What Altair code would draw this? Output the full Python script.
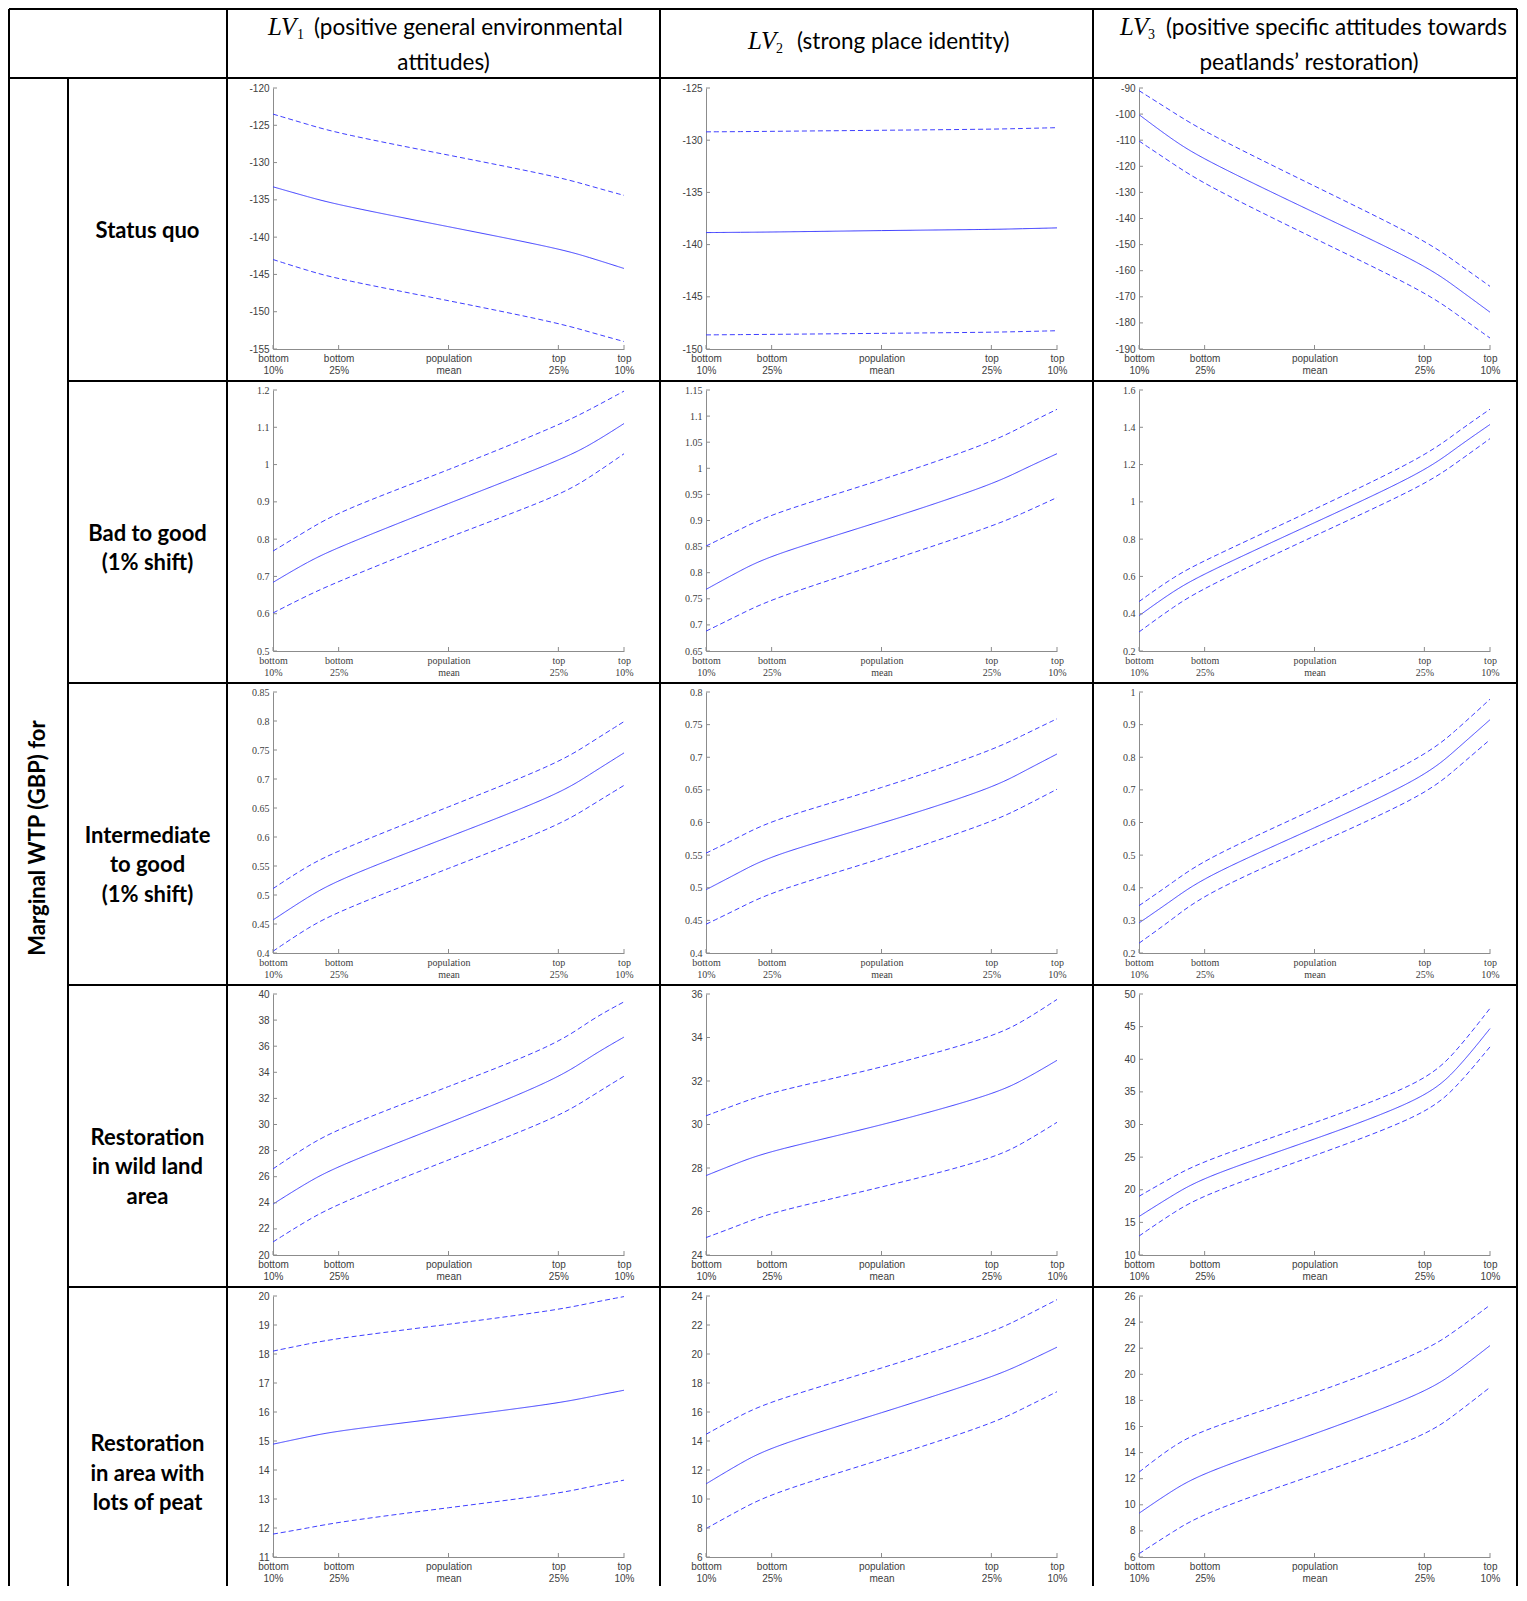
import altair as alt
import pandas as pd

# ---------------- data ----------------
X = [0.0, 0.1, 0.187, 0.5, 0.813, 0.9, 1.0]
X_TICKS = [0.0, 0.187, 0.5, 0.813, 1.0]
X_LABELS = [("bottom", "10%"), ("bottom", "25%"), ("population", "mean"), ("top", "25%"), ("top", "10%")]

COL_SUB = ["1", "2", "3"]
COL_LINE1 = ["(positive general environmental", "(strong place identity)", "(positive specific attitudes towards"]
COL_LINE2 = ["attitudes)", "", "peatlands\u2019 restoration)"]
ROW_LABELS = ["Status quo", "Bad to good\n(1% shift)", "Intermediate\nto good\n(1% shift)",
              "Restoration\nin wild land\narea", "Restoration\nin area with\nlots of peat"]
SIDE_LABEL = "Marginal WTP (GBP) for"

Y_TICKS = [
    [[-155, -150, -145, -140, -135, -130, -125, -120],
     [-150, -145, -140, -135, -130, -125],
     [-190, -180, -170, -160, -150, -140, -130, -120, -110, -100, -90]],
    [[0.5, 0.6, 0.7, 0.8, 0.9, 1, 1.1, 1.2],
     [0.65, 0.7, 0.75, 0.8, 0.85, 0.9, 0.95, 1, 1.05, 1.1, 1.15],
     [0.2, 0.4, 0.6, 0.8, 1, 1.2, 1.4, 1.6]],
    [[0.4, 0.45, 0.5, 0.55, 0.6, 0.65, 0.7, 0.75, 0.8, 0.85],
     [0.4, 0.45, 0.5, 0.55, 0.6, 0.65, 0.7, 0.75, 0.8],
     [0.2, 0.3, 0.4, 0.5, 0.6, 0.7, 0.8, 0.9, 1]],
    [[20, 22, 24, 26, 28, 30, 32, 34, 36, 38, 40],
     [24, 26, 28, 30, 32, 34, 36],
     [10, 15, 20, 25, 30, 35, 40, 45, 50]],
    [[11, 12, 13, 14, 15, 16, 17, 18, 19, 20],
     [6, 8, 10, 12, 14, 16, 18, 20, 22, 24],
     [6, 8, 10, 12, 14, 16, 18, 20, 22, 24, 26]],
]

MEAN = [
    [[-133.25, -134.6, -135.7, -138.6, -141.5, -142.7, -144.2],
     [-138.85, -138.82, -138.8, -138.65, -138.55, -138.48, -138.4],
     [-100.2, -110.3, -117.6, -137.8, -157.6, -166.0, -175.9]],
    [[0.684, 0.74, 0.779, 0.896, 1.01, 1.05, 1.11],
     [0.768, 0.805, 0.834, 0.898, 0.968, 0.997, 1.028],
     [0.389, 0.525, 0.617, 0.888, 1.16, 1.285, 1.415]],
    [[0.457, 0.497, 0.527, 0.6, 0.673, 0.707, 0.745],
     [0.497, 0.525, 0.55, 0.598, 0.652, 0.677, 0.705],
     [0.292, 0.366, 0.434, 0.583, 0.738, 0.82, 0.915]],
    [[23.9, 25.6, 26.85, 30.1, 33.5, 35.15, 36.7],
     [27.65, 28.3, 28.8, 29.95, 31.35, 32.0, 32.95],
     [15.9, 19.3, 22.0, 27.7, 33.9, 38.0, 44.7]],
    [[14.89, 15.15, 15.36, 15.81, 16.3, 16.52, 16.75],
     [11.04, 12.5, 13.62, 15.93, 18.37, 19.3, 20.47],
     [9.35, 11.2, 12.5, 15.4, 18.55, 20.1, 22.2]],
]
UPPER = [
    [[-123.5, -124.9, -126.1, -129.0, -131.9, -133.1, -134.4],
     [-129.2, -129.18, -129.15, -129.05, -128.95, -128.88, -128.8],
     [-91.0, -99.5, -106.9, -127.6, -148.1, -156.4, -166.0]],
    [[0.768, 0.825, 0.874, 0.985, 1.105, 1.146, 1.197],
     [0.851, 0.884, 0.913, 0.977, 1.049, 1.08, 1.113],
     [0.465, 0.6, 0.687, 0.959, 1.241, 1.366, 1.497]],
    [[0.511, 0.551, 0.577, 0.652, 0.727, 0.761, 0.799],
     [0.553, 0.579, 0.604, 0.652, 0.71, 0.733, 0.759],
     [0.345, 0.419, 0.488, 0.64, 0.801, 0.879, 0.978]],
    [[26.6, 28.4, 29.7, 32.9, 36.15, 37.95, 39.4],
     [30.4, 31.0, 31.5, 32.6, 34.0, 34.7, 35.75],
     [19.0, 22.1, 24.5, 30.2, 36.4, 40.9, 47.8]],
    [[18.1, 18.35, 18.55, 19.02, 19.52, 19.75, 19.98],
     [14.46, 15.8, 16.77, 19.0, 21.44, 22.5, 23.75],
     [12.5, 14.6, 15.8, 18.5, 21.7, 23.3, 25.3]],
]
LOWER = [
    [[-143.0, -144.5, -145.65, -148.5, -151.5, -152.7, -154.0],
     [-148.65, -148.62, -148.6, -148.5, -148.4, -148.33, -148.25],
     [-110.3, -119.3, -127.0, -147.7, -167.9, -176.2, -185.8]],
    [[0.602, 0.65, 0.687, 0.806, 0.915, 0.964, 1.029],
     [0.688, 0.721, 0.75, 0.818, 0.888, 0.913, 0.944],
     [0.302, 0.44, 0.541, 0.818, 1.089, 1.203, 1.339]],
    [[0.403, 0.444, 0.472, 0.546, 0.619, 0.652, 0.689],
     [0.444, 0.47, 0.494, 0.544, 0.6, 0.623, 0.651],
     [0.23, 0.307, 0.382, 0.531, 0.683, 0.761, 0.854]],
    [[21.0, 22.7, 23.95, 27.3, 30.55, 32.05, 33.7],
     [24.8, 25.4, 25.97, 27.1, 28.4, 29.1, 30.1],
     [12.9, 16.6, 19.3, 25.2, 31.4, 35.4, 41.9]],
    [[11.79, 12.0, 12.21, 12.7, 13.18, 13.42, 13.65],
     [7.96, 9.3, 10.4, 12.71, 15.16, 16.2, 17.4],
     [6.25, 8.0, 9.4, 12.3, 15.2, 16.9, 19.0]],
]

# ---------------- layout / style ----------------
W, H = 351, 261
HSP, VSP = 82, 41
OX, OY = 273, 88          # page position of the first plot area
PITCH_Y = H + VSP
BLUE = "#3f3fff"
AXC = "#8c8c8c"
LBL = "#404040"
TICK_FONT = ["Liberation Sans", "Liberation Serif", "Liberation Serif", "Liberation Sans", "Liberation Sans"]
HEAD_FONT = "Lato"
BOTTOM = 1586
RIGHT = 1517

ONE = pd.DataFrame({"d": [0]})


def x_label_expr():
    parts = []
    for v, (a, b) in zip(X_TICKS, X_LABELS):
        parts.append(f"datum.value == {v} ? ['{a}', '{b}']")
    return " : ".join(parts) + " : ''"


XEXPR = x_label_expr()


def panel(r, c):
    recs = []
    for kind, arr in (("mean", MEAN[r][c]), ("upper", UPPER[r][c]), ("lower", LOWER[r][c])):
        for xv, v in zip(X, arr):
            recs.append({"x": xv, "v": v, "kind": kind})
    df = pd.DataFrame(recs)
    yt = Y_TICKS[r][c]
    xs = alt.Scale(domain=[0, 1], nice=False, zero=False)
    ys = alt.Scale(domain=[yt[0], yt[-1]], nice=False, zero=False)
    font = TICK_FONT[r]
    xa = alt.Axis(values=X_TICKS, labelExpr=XEXPR, title=None, ticks=False, grid=False,
                  domainColor=AXC, domainWidth=1, labelFont=font, labelFontSize=10,
                  labelColor=LBL, labelLineHeight=12, labelPadding=4, labelFlush=False,
                  labelOverlap=False, labelBound=False)
    ya = alt.Axis(values=yt, labelExpr="datum.value + ''", title=None, ticks=False, grid=False,
                  domainColor=AXC, domainWidth=1, labelFont=font, labelFontSize=10,
                  labelColor=LBL, labelPadding=4, labelFlush=False, labelOverlap=False,
                  labelBound=False)
    lines = alt.Chart(df).mark_line(color=BLUE, strokeWidth=1, interpolate="basis").encode(
        x=alt.X("x:Q", scale=xs, axis=xa),
        y=alt.Y("v:Q", scale=ys, axis=ya),
        strokeDash=alt.StrokeDash("kind:N", scale=alt.Scale(
            domain=["mean", "upper", "lower"], range=[[1, 0], [5, 3], [5, 3]]), legend=None),
    )
    ytick = alt.Chart(pd.DataFrame({"t": yt})).mark_rule(color=AXC, strokeWidth=1).encode(
        y=alt.Y("t:Q", scale=ys, axis=ya), x=alt.value(0), x2=alt.value(4))
    xtick = alt.Chart(pd.DataFrame({"t": X_TICKS})).mark_rule(color=AXC, strokeWidth=1).encode(
        x=alt.X("t:Q", scale=xs, axis=xa), y=alt.value(H), y2=alt.value(H - 4))
    layers = [lines, ytick, xtick]
    if r == 0 and c == 0:
        layers += decorations()
    return alt.layer(*layers).properties(width=W, height=H)


def rule(x1, y1, x2, y2):
    return alt.Chart(ONE).mark_rule(color="black", strokeWidth=2).encode(
        x=alt.value(x1 - OX), x2=alt.value(x2 - OX), y=alt.value(y1 - OY), y2=alt.value(y2 - OY))


def txt(s, px, py, **kw):
    return alt.Chart(ONE).mark_text(**kw).encode(
        x=alt.value(px - OX), y=alt.value(py - OY), text=alt.value(s))


def decorations():
    out = []
    # table grid (page coordinates)
    VX_FULL = [9, 227, 660, 1093, RIGHT]
    for xv in VX_FULL:
        out.append(rule(xv, 9, xv, BOTTOM))
    out.append(rule(68, 78, 68, BOTTOM))
    out.append(rule(9, 9, RIGHT, 9))
    out.append(rule(9, 78, RIGHT, 78))
    row_lines = [OY + k * PITCH_Y - 9 for k in range(1, 5)]
    for yv in row_lines:
        out.append(rule(68, yv, RIGHT, yv))

    # column headers
    lv_x = [268, 748, 1120]
    sub_x = [297, 776, 1148]
    t_x = [314, 797, 1166]
    l1_y = [27.5, 42, 27.5]
    l2_x = [443.5, 876.5, 1309]
    for i in range(3):
        out.append(txt("LV", lv_x[i], l1_y[i] - 1, font="Liberation Serif", fontStyle="italic",
                       fontSize=25, align="left", baseline="middle", color="black"))
        out.append(txt(COL_SUB[i], sub_x[i], l1_y[i] + 7, font="Liberation Serif",
                       fontSize=14, align="left", baseline="middle", color="black"))
        out.append(txt(COL_LINE1[i], t_x[i], l1_y[i], font=HEAD_FONT, fontSize=22.5,
                       align="left", baseline="middle", color="black"))
        if COL_LINE2[i]:
            out.append(txt(COL_LINE2[i], l2_x[i], 63, font=HEAD_FONT, fontSize=22.5,
                           align="center", baseline="middle", color="black"))

    # row labels
    cell_tops = [78] + row_lines
    cell_bots = row_lines + [1598]
    for i, lab in enumerate(ROW_LABELS):
        cy = (cell_tops[i] + cell_bots[i]) / 2 + 1.5
        out.append(txt(lab, 147.5, cy, font=HEAD_FONT, fontSize=22, fontWeight="bold",
                       align="center", baseline="middle", lineBreak="\n", lineHeight=29.6,
                       color="black"))
    out.append(txt(SIDE_LABEL, 38, 838, font=HEAD_FONT, fontSize=22, fontWeight="bold",
                   align="center", baseline="middle", angle=270, color="black"))
    return out


cells = [panel(r, c) for r in range(5) for c in range(3)]

chart = alt.concat(*cells, columns=3, spacing={"row": VSP, "column": HSP}, bounds="flush").properties(
    padding=0
).configure_view(strokeWidth=0)

chart.save("out.html", embed_options={"renderer": "svg", "actions": False})
